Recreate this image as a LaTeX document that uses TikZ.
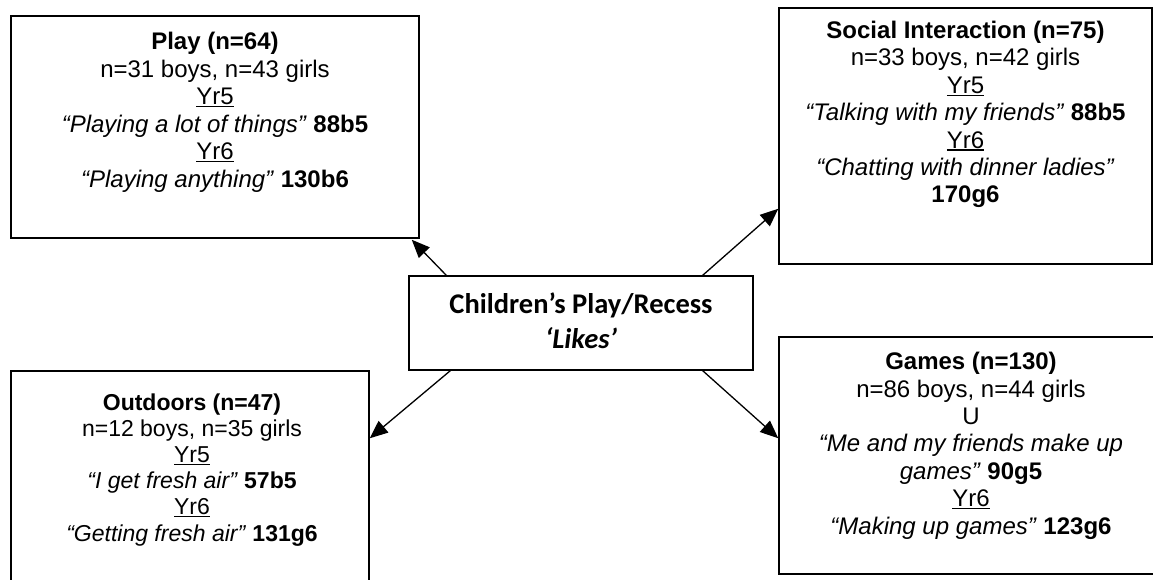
\documentclass[tikz,border=0pt]{standalone}
\usepackage{fontspec}
\setmainfont{Liberation Sans}
\newfontfamily\calibfont{Carlito}
\usetikzlibrary{arrows.meta,calc}
\newsavebox\myulbox
\newcommand\myul[1]{\sbox\myulbox{#1}\leavevmode\rlap{\rule[-2.6pt]{\wd\myulbox}{1.4pt}}\usebox\myulbox}
\begin{document}
\begin{tikzpicture}[x=1pt,y=-1pt,
  box/.style={draw,line width=1.5pt,rectangle,inner sep=0pt},
  txt/.style={align=center,anchor=base,inner sep=0pt,font=\fontsize{24}{27.4}\selectfont},
  txtsm/.style={txt,font=\fontsize{23}{26.2}\selectfont},
  ctxt/.style={align=center,anchor=base,inner sep=0pt,font=\calibfont\bfseries\fontsize{28.5}{35}\selectfont},
  arr/.style={-{Triangle[length=18pt,width=15pt]},line width=1.3pt}]
\useasboundingbox (0,0) rectangle (1153,580);
% boxes
\node[box,minimum width=408,minimum height=222] (play) at (215,127) {};
\node[box,minimum width=373,minimum height=256] (social) at (965.5,136) {};
\node[box,minimum width=358,minimum height=239] (outd) at (190,490.5) {};
\node[box,minimum width=383,minimum height=237] (games) at (970.5,455.5) {};
\node[box,line width=1.3pt,minimum width=344,minimum height=94] (centre) at (581,323) {};
% texts (anchor base = baseline of last line)
\node[txt] (playtxt) at (215,187) {\textbf{Play (n=64)}\\ n=31 boys, n=43 girls\\ \myul{Yr5}\\ \textit{“Playing a lot of things”} \textbf{88b5}\\ \myul{Yr6}\\ \textit{“Playing anything”} \textbf{130b6}};
\node[txt] (socialtxt) at (965.5,203) {\textbf{Social Interaction (n=75)}\\ n=33 boys, n=42 girls\\ \myul{Yr5}\\ \textit{“Talking with my friends”} \textbf{88b5}\\ \myul{Yr6}\\ \textit{“Chatting with dinner ladies”}\\ \textbf{170g6}};
\node[txtsm] (outdtxt) at (192,541) {\textbf{Outdoors (n=47)}\\ n=12 boys, n=35 girls\\ \myul{Yr5}\\ \textit{“I get fresh air”} \textbf{57b5}\\ \myul{Yr6}\\ \textit{“Getting fresh air”} \textbf{131g6}};
\node[txt] (gamestxt) at (971,534) {\textbf{Games (n=130)}\\ n=86 boys, n=44 girls\\ U\\ \textit{“Me and my friends make up}\\ \textit{games”} \textbf{90g5}\\ \myul{Yr6}\\ \textit{“Making up games”} \textbf{123g6}};
\node[ctxt] (centretxt) at (581,348) {Children’s Play/Recess\\ \textit{‘Likes’}};
% connector end points
\coordinate (a1) at ($(centre.north west)+(38,0)$);
\coordinate (b1) at ($(play.south east)+(-8,1)$);
\coordinate (a2) at ($(centre.north east)+(-51,0)$);
\coordinate (b2) at ($(social.south west)+(0,-56)$);
\coordinate (a3) at ($(centre.south west)+(42,0)$);
\coordinate (b3) at ($(outd.north east)+(0,68)$);
\coordinate (a4) at ($(centre.south east)+(-51,0)$);
\coordinate (b4) at ($(games.north west)+(0,102)$);
\draw[arr] (a1) -- (b1);
\draw[arr] (a2) -- (b2);
\draw[arr] (a3) -- (b3);
\draw[arr] (a4) -- (b4);
\end{tikzpicture}
\end{document}
